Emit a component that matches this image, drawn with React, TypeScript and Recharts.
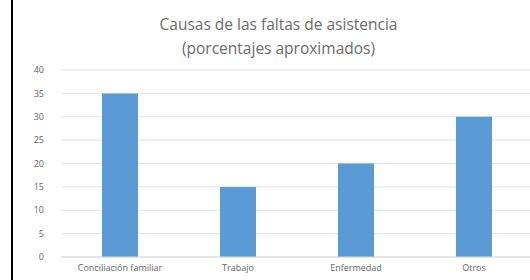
import React from 'react';
import { BarChart, Bar, XAxis, YAxis, CartesianGrid } from 'recharts';

const categories = ['Conciliación familiar', 'Trabajo', 'Enfermedad', 'Otros'];
const values = [35, 15, 20, 30];
const yTicks = [0, 5, 10, 15, 20, 25, 30, 35, 40];
const titleLines = ['Causas de las faltas de asistencia', '(porcentajes aproximados)'];

const data = categories.map((c, i) => ({ name: c, value: values[i] }));

const font = '"Open Sans", "Noto Sans", sans-serif';

export default function App() {
  return (
    <div style={{ position: 'fixed', left: 0, top: 0, width: 530, height: 280, background: '#fff', overflow: 'hidden' }}>
      <style>{`html,body{margin:0;padding:0;overflow:hidden;background:#fff}`}</style>
      <div style={{ position: 'absolute', left: 11, top: 0, width: 2, height: 280, background: '#000' }} />
      <div style={{ position: 'absolute', left: 0, top: 12, width: 557, textAlign: 'center', fontFamily: font, fontSize: 15.5, lineHeight: '24px', color: '#6b6b6b' }}>
        {titleLines.map((t) => (<div key={t}>{t}</div>))}
      </div>
      <div style={{ position: 'absolute', left: 0, top: 0 }}>
        <BarChart width={533} height={280} data={data} margin={{ top: 70, right: 0, bottom: 0, left: 0 }}>
          <CartesianGrid vertical={false} stroke="#e3e3e3" />
          <XAxis dataKey="name" height={23} axisLine={{ stroke: '#d9d9d9' }} tickLine={false} tickSize={0} tickMargin={8}
            tick={{ fontSize: 9, fill: '#666666', fontFamily: font }} interval={0} />
          <YAxis width={61} domain={[0, 40]} ticks={yTicks} axisLine={false} tickLine={false} tickSize={0} tickMargin={17}
            tick={{ fontSize: 9, fill: '#666666', fontFamily: font }} />
          <Bar dataKey="value" fill="#5b9bd5" barSize={36} isAnimationActive={false} />
        </BarChart>
      </div>
    </div>
  );
}
